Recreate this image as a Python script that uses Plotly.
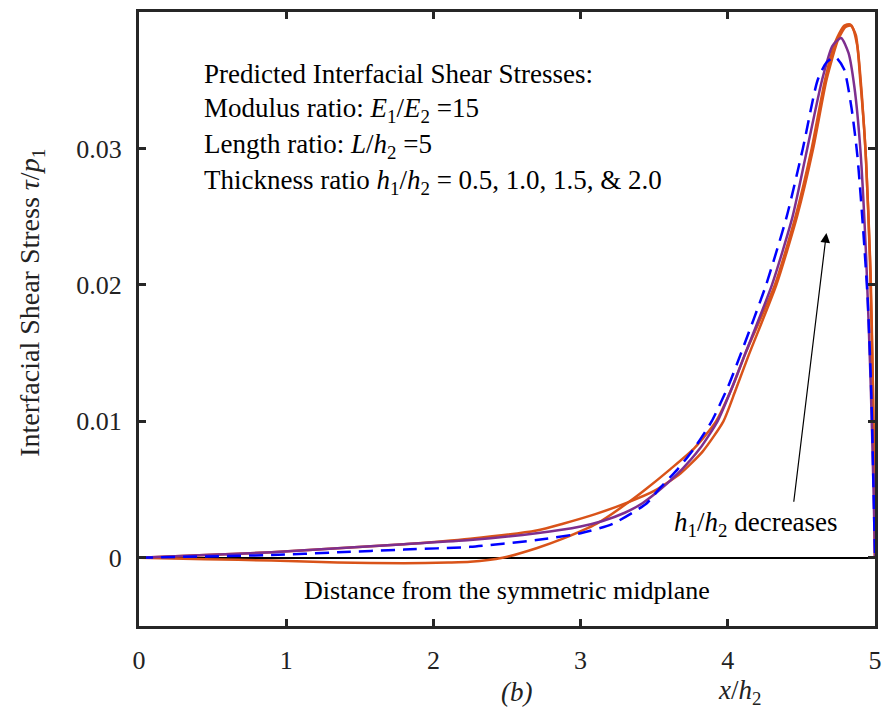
import plotly.graph_objects as go

# x / h2 positions and shear stress tau / p1
X_ORANGE_A = [0, 0.45, 0.9, 1.35, 1.8, 2.25, 2.7, 2.88, 3.1, 3.33, 3.5, 3.68, 3.83, 3.97, 4.05,
              4.14, 4.33, 4.47, 4.58, 4.67, 4.75, 4.80, 4.84, 4.88, 4.91, 4.94, 4.965, 4.985,
              4.995, 5.0]
Y_ORANGE_A = [0, 0.0002, 0.0004, 0.0007, 0.0010, 0.0014, 0.0020, 0.0025, 0.0032, 0.0041, 0.0049,
              0.0062, 0.0078, 0.0100, 0.0122, 0.0148, 0.0200, 0.0250, 0.0300, 0.0350, 0.0380,
              0.0389, 0.0390, 0.0375, 0.0340, 0.0290, 0.0220, 0.0130, 0.0050, 0]

X_ORANGE_B = [0, 0.45, 0.9, 1.35, 1.8, 2.1, 2.25, 2.47, 2.7, 2.88, 3.11, 3.33, 3.44, 3.61, 3.77,
              3.92, 4.03, 4.12, 4.32, 4.46, 4.57, 4.66, 4.73, 4.79, 4.83, 4.87, 4.90, 4.935, 4.97,
              4.985, 4.997, 5.0]
Y_ORANGE_B = [0, -0.0001, -0.0002, -0.00035, -0.0004, -0.00035, -0.0003, 0.0, 0.0007, 0.0014,
              0.0025, 0.0041, 0.0050, 0.0065, 0.0080, 0.0100, 0.0125, 0.0150, 0.0200, 0.0250,
              0.0300, 0.0350, 0.0378, 0.0390, 0.0391, 0.0383, 0.0350, 0.0300, 0.0210, 0.0130,
              0.0050, 0]

X_PURPLE = [0, 0.45, 0.9, 1.35, 1.8, 2.25, 2.7, 3.0, 3.15, 3.3, 3.42, 3.54, 3.69, 3.81, 3.93,
            4.03, 4.12, 4.30, 4.44, 4.54, 4.64, 4.71, 4.77, 4.82, 4.86, 4.90, 4.94, 4.97, 4.99,
            5.0]
Y_PURPLE = [0, 0.0002, 0.0004, 0.0007, 0.0010, 0.0013, 0.0018, 0.0023, 0.0027, 0.0033, 0.0040,
            0.0050, 0.0065, 0.0080, 0.0100, 0.0125, 0.0150, 0.0200, 0.0250, 0.0300, 0.0350,
            0.0375, 0.0381, 0.0370, 0.0345, 0.0300, 0.0220, 0.0130, 0.0050, 0]

X_BLUE = [0, 0.45, 0.9, 1.35, 1.8, 2.25, 2.7, 3.0, 3.22, 3.45, 3.53, 3.66, 3.77, 3.89, 4.00,
          4.09, 4.26, 4.40, 4.51, 4.61, 4.67, 4.73, 4.79, 4.84, 4.88, 4.92, 4.95, 4.975, 4.99,
          5.0]
Y_BLUE = [0, 0.0001, 0.0002, 0.0004, 0.0006, 0.0008, 0.0013, 0.0018, 0.0025, 0.0040, 0.0050,
          0.0065, 0.0080, 0.0100, 0.0125, 0.0150, 0.0200, 0.0250, 0.0300, 0.0350, 0.0363,
          0.0367, 0.0358, 0.0330, 0.0295, 0.0240, 0.0190, 0.0120, 0.0050, 0]

X_TICKS = [0, 1, 2, 3, 4, 5]
Y_TICKS = [0, 0.01, 0.02, 0.03]
Y_TICK_TEXT = ["0", "0.01", "0.02", "0.03"]

FONT = "Liberation Serif, Times New Roman, serif"
ORANGE = "#D95319"
PURPLE = "#7E2F8E"
BLUE = "#0000FF"
FRAME = "#262626"


def main():
    fig = go.Figure()
    for xs, ys, color in [
        (X_ORANGE_A, Y_ORANGE_A, ORANGE),
        (X_ORANGE_B, Y_ORANGE_B, ORANGE),
        (X_PURPLE, Y_PURPLE, PURPLE),
    ]:
        fig.add_trace(
            go.Scatter(
                x=xs, y=ys, mode="lines",
                line=dict(color=color, width=2.5, shape="spline", smoothing=0.6),
            )
        )
    fig.add_trace(
        go.Scatter(
            x=X_BLUE, y=Y_BLUE, mode="lines",
            line=dict(color=BLUE, width=2.5, dash="14px,8px", shape="spline", smoothing=0.6),
        )
    )

    axis_common = dict(
        showgrid=False,
        showline=True,
        linewidth=3,
        linecolor=FRAME,
        mirror="ticks",
        ticks="inside",
        ticklen=7,
        tickwidth=3,
        tickcolor=FRAME,
        ticklabeloverflow="allow",
        tickfont=dict(family=FONT, size=26, color="#222222"),
    )
    fig.update_layout(
        width=885,
        height=713,
        margin=dict(l=139, r=3, t=12, b=87),
        paper_bgcolor="white",
        plot_bgcolor="white",
        showlegend=False,
        font=dict(family=FONT, size=26, color="black"),
        xaxis=dict(
            range=[0, 5], tickvals=X_TICKS, zeroline=False,
            ticklabelstandoff=9, **axis_common,
        ),
        yaxis=dict(
            range=[-0.005, 0.04], tickvals=Y_TICKS, ticktext=Y_TICK_TEXT,
            zeroline=True, zerolinecolor="black", zerolinewidth=2,
            ticklabelstandoff=9, **axis_common,
        ),
    )

    text_lines = [
        "Predicted Interfacial Shear Stresses:",
        "Modulus ratio: <i>E</i><sub>1</sub>/<i>E</i><sub>2</sub> =15",
        "Length ratio: <i>L</i>/<i>h</i><sub>2</sub> =5",
        "Thickness ratio <i>h</i><sub>1</sub>/<i>h</i><sub>2</sub> = 0.5, 1.0, 1.5, & 2.0",
    ]
    for i, line in enumerate(text_lines):
        fig.add_annotation(
            text=line, xref="paper", yref="paper",
            x=0.086, y=0.899 - i * 0.0586,
            xanchor="left", yanchor="middle", showarrow=False,
            font=dict(family=FONT, size=27, color="black"),
        )

    fig.add_annotation(
        text="Interfacial Shear Stress <i>τ</i>/<i>p</i><sub>1</sub>",
        xref="paper", yref="paper", x=-0.147, y=0.526, textangle=-90,
        xanchor="center", yanchor="middle", showarrow=False,
        font=dict(family=FONT, size=28, color="#222222"),
    )
    fig.add_annotation(
        text="Distance from the symmetric midplane",
        xref="paper", yref="paper", x=0.5, y=0.0586,
        xanchor="center", yanchor="middle", showarrow=False,
        font=dict(family=FONT, size=26, color="black"),
    )
    fig.add_annotation(
        text="<i>(b)</i>", xref="paper", yref="paper", x=0.513, y=-0.1075,
        xanchor="center", yanchor="middle", showarrow=False,
        font=dict(family=FONT, size=27, color="#222222"),
    )
    fig.add_annotation(
        text="<i>x</i>/<i>h</i><sub>2</sub>", xref="paper", yref="paper", x=0.8156, y=-0.1075,
        xanchor="center", yanchor="middle", showarrow=False,
        font=dict(family=FONT, size=27, color="#222222"),
    )
    fig.add_annotation(
        text="<i>h</i><sub>1</sub>/<i>h</i><sub>2</sub> decreases",
        xref="paper", yref="paper", x=0.8385, y=0.166,
        xanchor="center", yanchor="middle", showarrow=False,
        font=dict(family=FONT, size=27, color="black"),
    )
    # arrow pointing toward the higher peaks
    fig.add_annotation(
        text="", xref="x", yref="y", axref="x", ayref="y",
        x=4.67, y=0.0238, ax=4.447, ay=0.0040,
        showarrow=True, arrowhead=2, arrowsize=1.6, arrowwidth=1.2, arrowcolor="black",
    )

    # drop the default page margin so the figure sits at the window corner
    fig.write_html(
        "out.html",
        config={"displayModeBar": False},
        post_script="document.body.style.margin='0';document.body.style.overflow='hidden';",
    )


if __name__ == "__main__":
    main()
